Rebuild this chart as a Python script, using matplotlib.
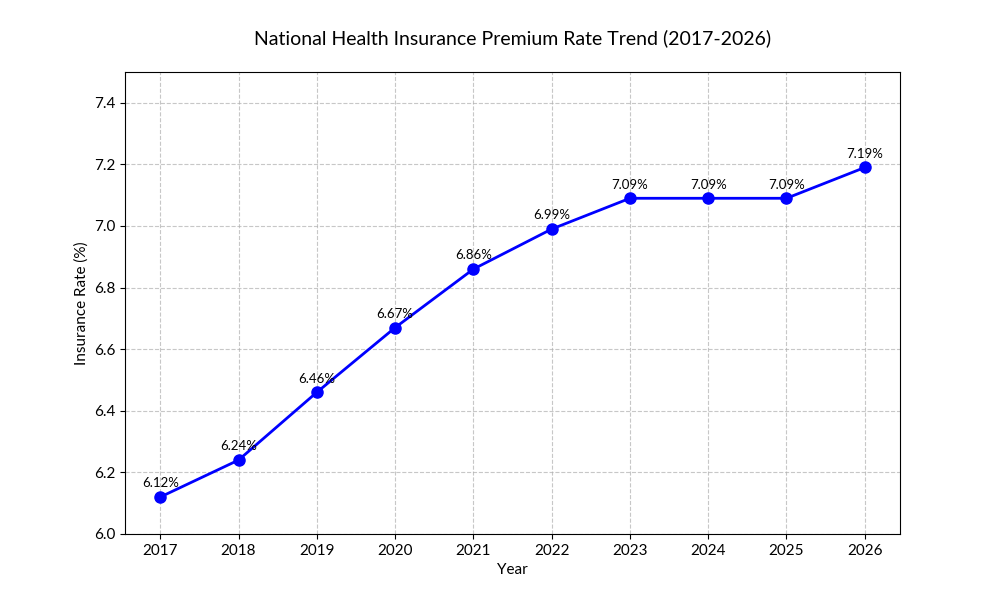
import matplotlib
matplotlib.use("Agg")
import matplotlib.pyplot as plt

plt.rcParams["font.family"] = ["Lato", "DejaVu Sans"]

years = [2017, 2018, 2019, 2020, 2021, 2022, 2023, 2024, 2025, 2026]
rates = [6.12, 6.24, 6.46, 6.67, 6.86, 6.99, 7.09, 7.09, 7.09, 7.19]

fig, ax = plt.subplots(figsize=(10, 6), dpi=100)
ax.plot(years, rates, color="blue", marker="o", markersize=8, linewidth=2)

for x, y in zip(years, rates):
    ax.annotate(f"{y:.2f}%", (x, y), textcoords="offset points", xytext=(0, 7),
                ha="center", fontsize=9.5)

ax.set_title("National Health Insurance Premium Rate Trend (2017-2026)", fontsize=14, pad=20)
ax.set_xlabel("Year", fontsize=11)
ax.set_ylabel("Insurance Rate (%)", fontsize=11)
ax.set_xticks(years)
ax.set_ylim(6.0, 7.5)
ax.tick_params(labelsize=11)
ax.grid(True, linestyle="--", alpha=0.7)

fig.savefig("out.png", dpi=100)
